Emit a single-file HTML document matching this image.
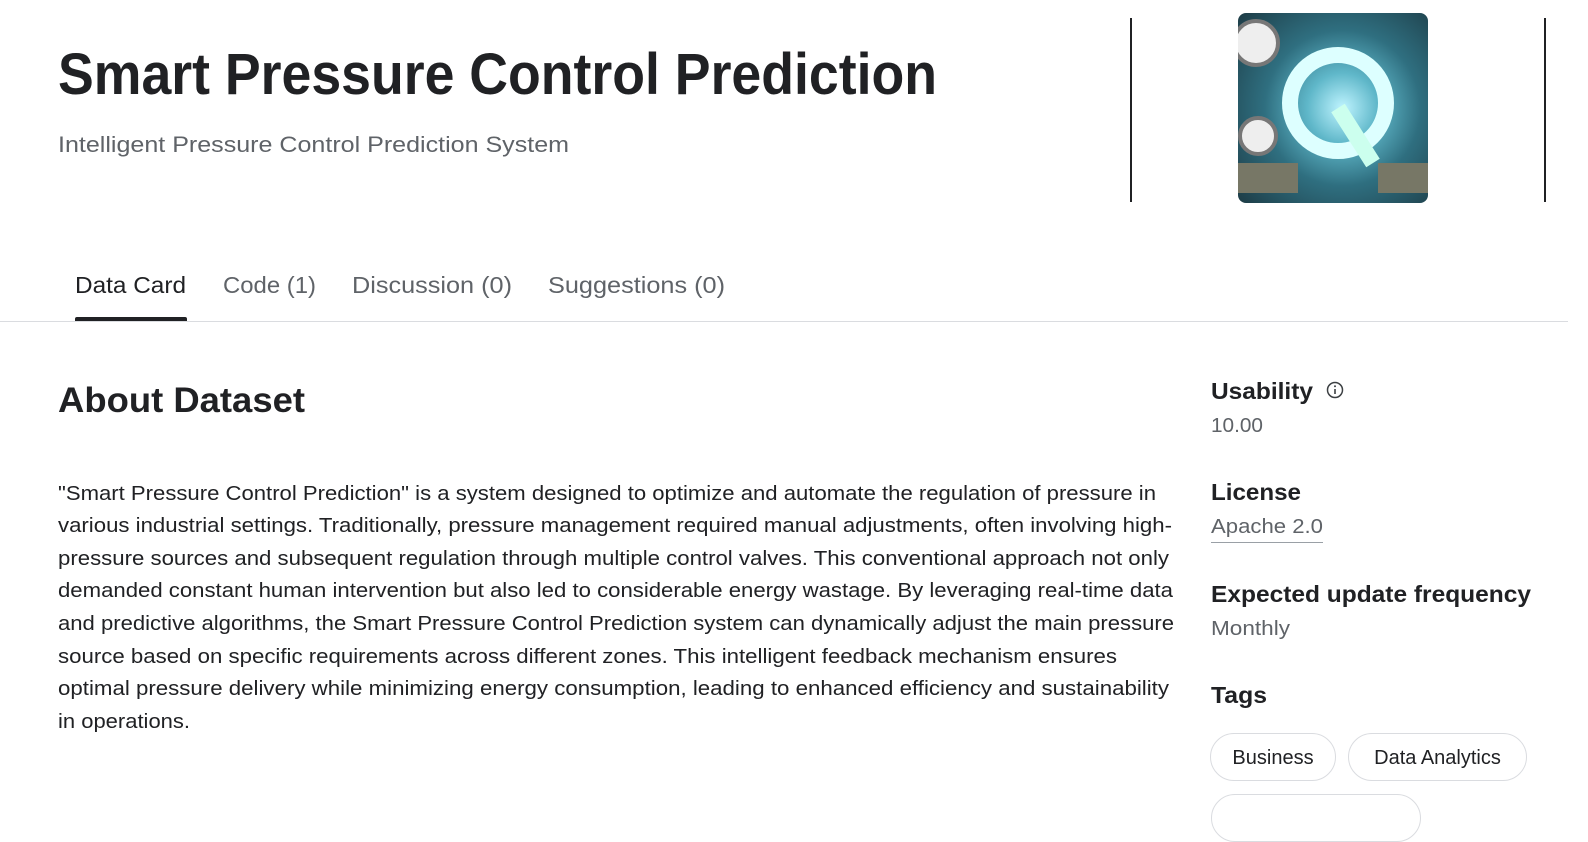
<!DOCTYPE html>
<html><head><meta charset="utf-8"><style>
body{margin:0;width:1588px;height:817px;overflow:hidden;background:#fff;font-family:"Liberation Sans",sans-serif;color:#202124;position:relative}
.a{position:absolute;white-space:nowrap;transform-origin:0 50%}
.fit{display:inline-block}
.tag{position:absolute;border:1px solid #dadce0;border-radius:25px;height:48px;font-size:20px;line-height:48px;text-align:center;color:#202124;box-sizing:border-box}
</style></head><body>
<div class="a fit" data-w="879" style="left:58px;top:40px;font-size:58px;font-weight:bold;line-height:70px">Smart Pressure Control Prediction</div>
<div class="a fit" data-w="511" style="left:58px;top:131px;font-size:22px;color:#5f6368;line-height:28px">Intelligent Pressure Control Prediction System</div>
<div class="a" style="left:1130px;top:18px;width:2px;height:184px;background:#202124"></div>
<div class="a" style="left:1544px;top:18px;width:2px;height:184px;background:#202124"></div>
<div class="a" style="left:1238px;top:13px;width:190px;height:190px;border-radius:8px;overflow:hidden;background:radial-gradient(circle at 55% 50%,#bff4ff 0,#5fb7c9 25%,#2f6f80 55%,#1d3b45 100%)">
<svg width="190" height="190"><circle cx="100" cy="90" r="48" fill="none" stroke="#dff" stroke-width="16"/><line x1="100" y1="95" x2="135" y2="150" stroke="#cfe" stroke-width="16"/><circle cx="18" cy="30" r="22" fill="#eee" stroke="#777" stroke-width="4"/><circle cx="20" cy="123" r="18" fill="#eee" stroke="#777" stroke-width="4"/><rect x="0" y="150" width="60" height="30" fill="#776" /><rect x="140" y="150" width="50" height="30" fill="#776"/></svg></div>
<div class="a fit" data-w="111" style="left:75px;top:271px;font-size:23px;line-height:28px;color:#202124">Data Card</div>
<div class="a fit" data-w="93" style="left:223px;top:271px;font-size:23px;line-height:28px;color:#5f6368">Code (1)</div>
<div class="a fit" data-w="160" style="left:352px;top:271px;font-size:23px;line-height:28px;color:#5f6368">Discussion (0)</div>
<div class="a fit" data-w="177" style="left:548px;top:271px;font-size:23px;line-height:28px;color:#5f6368">Suggestions (0)</div>
<div class="a" style="left:75px;top:317px;width:112px;height:4px;background:#202124;border-radius:2px 2px 0 0"></div>
<div class="a" style="left:0;top:321px;width:1568px;height:1px;background:#dadce0"></div>
<div class="a fit" data-w="247" style="left:58px;top:383px;font-size:35px;font-weight:bold;line-height:36px">About Dataset</div>
<div>
<div class="a fit" data-w="1098" style="left:58px;top:481px;font-size:20px;line-height:26px">"Smart Pressure Control Prediction" is a system designed to optimize and automate the regulation of pressure in</div>
<div class="a fit" data-w="1114" style="left:58px;top:513px;font-size:20px;line-height:26px">various industrial settings. Traditionally, pressure management required manual adjustments, often involving high-</div>
<div class="a fit" data-w="1111" style="left:58px;top:546px;font-size:20px;line-height:26px">pressure sources and subsequent regulation through multiple control valves. This conventional approach not only</div>
<div class="a fit" data-w="1115" style="left:58px;top:578px;font-size:20px;line-height:26px">demanded constant human intervention but also led to considerable energy wastage. By leveraging real-time data</div>
<div class="a fit" data-w="1116" style="left:58px;top:611px;font-size:20px;line-height:26px">and predictive algorithms, the Smart Pressure Control Prediction system can dynamically adjust the main pressure</div>
<div class="a fit" data-w="1059" style="left:58px;top:644px;font-size:20px;line-height:26px">source based on specific requirements across different zones. This intelligent feedback mechanism ensures</div>
<div class="a fit" data-w="1111" style="left:58px;top:676px;font-size:20px;line-height:26px">optimal pressure delivery while minimizing energy consumption, leading to enhanced efficiency and sustainability</div>
<div class="a fit" data-w="132" style="left:58px;top:709px;font-size:20px;line-height:26px">in operations.</div>
</div>
<div class="a fit" data-w="102" style="left:1211px;top:377px;font-size:23px;font-weight:bold;line-height:28px">Usability</div>
<svg class="a" style="left:1325px;top:380px" width="20" height="20"><circle cx="10" cy="10" r="7.5" fill="none" stroke="#3c4043" stroke-width="1.5"/><line x1="10" y1="9" x2="10" y2="14" stroke="#3c4043" stroke-width="1.6"/><circle cx="10" cy="6.3" r="1" fill="#3c4043"/></svg>
<div class="a fit" data-w="52" style="left:1211px;top:414px;font-size:20px;color:#5f6368;line-height:24px">10.00</div>
<div class="a fit" data-w="90" style="left:1211px;top:478px;font-size:23px;font-weight:bold;line-height:28px">License</div>
<div class="a fit" data-w="112" style="left:1211px;top:515px;font-size:20px;color:#5f6368;line-height:24px">Apache 2.0</div>
<div class="a" style="left:1211px;top:542px;width:112px;height:1px;background:#9aa0a6"></div>
<div class="a fit" data-w="320" style="left:1211px;top:580px;font-size:23px;font-weight:bold;line-height:28px">Expected update frequency</div>
<div class="a fit" data-w="79" style="left:1211px;top:617px;font-size:20px;color:#5f6368;line-height:24px">Monthly</div>
<div class="a fit" data-w="56" style="left:1211px;top:681px;font-size:23px;font-weight:bold;line-height:28px">Tags</div>
<div class="tag" style="left:1210px;top:733px;width:126px">Business</div>
<div class="tag" style="left:1348px;top:733px;width:179px">Data Analytics</div>
<div class="tag" style="left:1211px;top:794px;width:210px;height:48px"></div>
<script>
document.querySelectorAll('.fit').forEach(function(el){
  var t=+el.getAttribute('data-w');var w=el.getBoundingClientRect().width;
  if(t&&w){el.style.transform='scaleX('+(t/w)+')';}
});
</script>
</body></html>
